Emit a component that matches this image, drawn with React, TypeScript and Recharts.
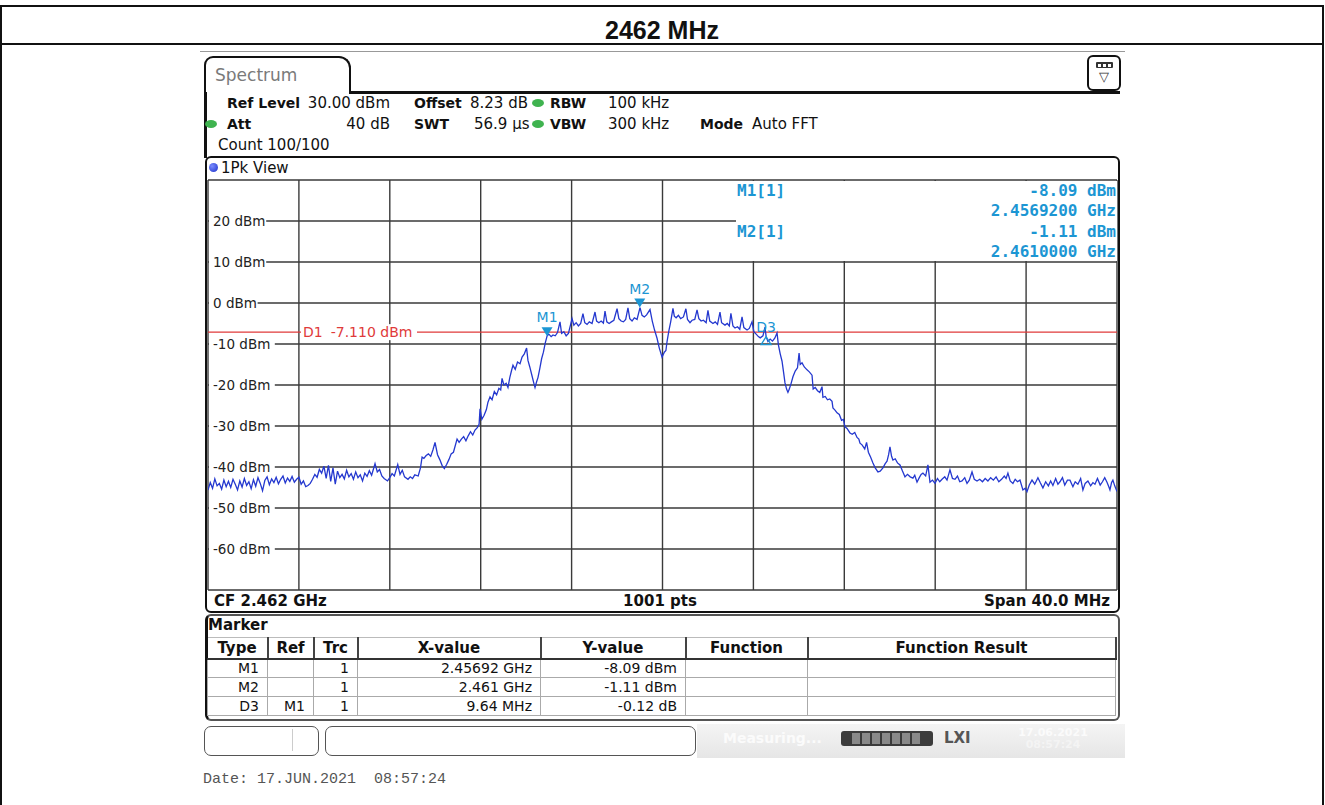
import React from "react";
import {
  LineChart,
  Line,
  XAxis,
  YAxis,
  CartesianGrid,
  ReferenceLine,
  ReferenceDot,
} from "recharts";

// frequency axis in MHz (CF 2462, span 40), level axis in dBm
const freqTicks = [2442, 2446, 2450, 2454, 2458, 2462, 2466, 2470, 2474, 2478, 2482];
const levelTicks = [-70, -60, -50, -40, -30, -20, -10, 0, 10, 20, 30];

// trace 1 (peak), [MHz, dBm]
const leftNoise: [number, number][] = [
  [2442.0, -45.6], [2442.1, -43.8], [2442.2, -45.2], [2442.3, -42.9], [2442.4, -44.6],
  [2442.5, -44.0], [2442.6, -45.4], [2442.7, -43.2], [2442.8, -44.8], [2442.9, -43.5],
  [2443.0, -45.0], [2443.1, -43.0], [2443.2, -44.2], [2443.3, -45.6], [2443.4, -43.4],
  [2443.5, -44.9], [2443.6, -42.8], [2443.7, -44.5], [2443.8, -43.6], [2443.9, -45.3],
  [2444.0, -43.1], [2444.1, -44.7], [2444.2, -42.6], [2444.3, -44.0], [2444.4, -45.8],
  [2444.5, -43.3], [2444.6, -42.4], [2444.7, -44.3], [2444.8, -42.9], [2444.9, -43.8],
  [2445.0, -42.5], [2445.1, -44.1], [2445.2, -43.0], [2445.3, -42.2], [2445.4, -43.9],
  [2445.5, -42.7], [2445.6, -43.5], [2445.7, -42.3], [2445.8, -43.7], [2445.9, -43.0],
  [2446.0, -42.5], [2446.1, -44.2], [2446.2, -43.4], [2446.3, -44.8], [2446.4, -44.5],
  [2446.5, -44.0],
];

const lowShoulder: [number, number][] = [
  [2446.6, -43.0], [2446.7, -41.8], [2446.8, -42.5], [2446.9, -40.6], [2447.0, -41.5],
  [2447.1, -39.8], [2447.2, -42.8], [2447.3, -39.6], [2447.4, -43.5], [2447.5, -40.2],
  [2447.6, -44.2], [2447.7, -41.0], [2447.8, -42.6], [2447.9, -41.8], [2448.0, -42.9],
  [2448.1, -40.8], [2448.2, -42.4], [2448.3, -41.6], [2448.4, -43.0], [2448.5, -41.2],
  [2448.6, -42.6], [2448.7, -41.9], [2448.8, -43.4], [2448.9, -41.5], [2449.0, -42.3],
  [2449.1, -40.9], [2449.2, -42.0], [2449.35, -39.2], [2449.45, -41.2], [2449.55, -40.6],
  [2449.65, -42.2], [2449.75, -42.8], [2449.9, -43.4], [2450.0, -42.6], [2450.1, -41.6],
  [2450.2, -42.2], [2450.35, -39.4], [2450.45, -41.8], [2450.55, -40.8], [2450.65, -42.4],
  [2450.8, -43.0], [2450.9, -42.4], [2451.0, -42.8], [2451.1, -41.9], [2451.25, -42.2],
  [2451.35, -40.2], [2451.42, -37.6], [2451.5, -37.9], [2451.6, -37.2], [2451.7, -36.8],
  [2451.8, -37.4], [2451.9, -35.8], [2451.99, -34.0], [2452.1, -37.0], [2452.2, -38.2],
  [2452.3, -39.6], [2452.4, -40.4], [2452.5, -39.4], [2452.6, -38.2], [2452.7, -36.8],
  [2452.8, -36.4], [2452.96, -33.2], [2453.05, -34.0], [2453.15, -33.2], [2453.25, -32.6],
  [2453.35, -33.6], [2453.45, -32.4], [2453.55, -31.4], [2453.65, -32.2], [2453.75, -31.0],
  [2453.85, -30.4], [2453.93, -29.6],
];

const midShoulder: [number, number][] = [
  [2453.97, -25.8], [2454.05, -28.4], [2454.15, -27.4], [2454.25, -26.0], [2454.32, -24.2],
  [2454.41, -22.9], [2454.5, -23.6], [2454.6, -21.6], [2454.7, -22.4], [2454.8, -20.8],
  [2454.88, -21.2], [2454.94, -18.4], [2455.02, -20.0], [2455.12, -19.6], [2455.2, -20.6],
  [2455.28, -18.2], [2455.36, -16.4], [2455.42, -15.2], [2455.52, -16.2], [2455.62, -14.4],
  [2455.73, -14.8], [2455.82, -13.2], [2455.92, -12.4], [2456.02, -11.0], [2456.08, -14.0],
  [2456.16, -15.6], [2456.26, -17.8], [2456.34, -19.6], [2456.39, -20.6], [2456.46, -19.2],
  [2456.52, -18.2], [2456.6, -16.0], [2456.68, -13.6], [2456.76, -12.0], [2456.84, -9.8],
  [2456.92, -8.09],
];

const plateauLeft: [number, number][] = [
  [2457.0, -7.6], [2457.1, -8.2], [2457.18, -7.8], [2457.28, -8.0], [2457.38, -7.2],
  [2457.49, -4.6], [2457.56, -7.4], [2457.66, -7.0], [2457.76, -8.0], [2457.86, -7.4],
  [2457.95, -5.4], [2458.02, -3.8], [2458.1, -5.4], [2458.2, -4.8], [2458.3, -5.6],
  [2458.4, -5.0], [2458.5, -2.6], [2458.58, -4.8], [2458.68, -5.2], [2458.78, -4.6],
  [2458.9, -5.0], [2459.03, -2.2], [2459.1, -4.4], [2459.2, -4.8], [2459.3, -4.4],
  [2459.4, -4.9], [2459.47, -2.0], [2459.55, -4.6], [2459.65, -5.0], [2459.75, -4.6],
  [2459.86, -4.2], [2460.0, -1.4], [2460.08, -3.8], [2460.18, -4.4], [2460.28, -4.6],
  [2460.38, -4.0], [2460.48, -1.2], [2460.56, -3.8], [2460.66, -4.4], [2460.76, -3.6],
  [2460.88, -4.0], [2461.01, -1.11], [2461.1, -3.0], [2461.2, -3.4], [2461.3, -2.9],
  [2461.45, -1.6], [2461.55, -4.4], [2461.65, -6.6], [2461.76, -8.6], [2461.86, -11.0],
  [2461.98, -13.2],
];

const plateauRight: [number, number][] = [
  [2462.08, -12.0], [2462.15, -11.6], [2462.2, -9.4], [2462.28, -6.8], [2462.36, -4.6],
  [2462.46, -1.3], [2462.52, -3.2], [2462.6, -3.6], [2462.7, -3.0], [2462.8, -3.8],
  [2462.92, -3.4], [2463.03, -1.4], [2463.1, -4.0], [2463.21, -4.8], [2463.3, -4.2],
  [2463.42, -4.0], [2463.52, -1.7], [2463.6, -3.8], [2463.7, -4.4], [2463.8, -4.2],
  [2463.92, -4.8], [2464.0, -1.8], [2464.08, -4.4], [2464.22, -5.0], [2464.32, -4.6],
  [2464.42, -5.2], [2464.53, -2.2], [2464.6, -4.8], [2464.75, -5.4], [2464.85, -5.0],
  [2464.94, -5.6], [2465.01, -2.5], [2465.1, -5.6], [2465.19, -6.1], [2465.3, -5.8],
  [2465.4, -6.4], [2465.5, -3.4], [2465.58, -6.0], [2465.72, -6.6], [2465.82, -6.2],
  [2465.94, -4.6], [2466.02, -7.0], [2466.12, -7.6], [2466.22, -8.2], [2466.3, -8.5],
  [2466.42, -8.0], [2466.51, -5.9], [2466.56, -8.21], [2466.64, -9.4], [2466.74, -8.8],
  [2466.84, -9.3], [2466.94, -8.6], [2467.04, -7.3], [2467.1, -10.2],
];

const upperFall: [number, number][] = [
  [2467.18, -12.4], [2467.26, -14.2], [2467.33, -17.0], [2467.39, -19.5], [2467.46, -21.0],
  [2467.52, -21.8], [2467.58, -21.0], [2467.66, -19.6], [2467.74, -18.0], [2467.84, -16.6],
  [2467.94, -15.8], [2468.01, -12.2], [2468.06, -15.0], [2468.14, -14.6], [2468.24, -15.6],
  [2468.36, -16.3], [2468.46, -16.8], [2468.58, -17.6], [2468.63, -21.0], [2468.72, -20.6],
  [2468.82, -21.4], [2468.92, -21.8], [2469.02, -20.4], [2469.06, -23.0], [2469.16, -22.8],
  [2469.26, -23.6], [2469.36, -23.4], [2469.46, -24.0], [2469.5, -25.6], [2469.6, -26.2],
  [2469.68, -26.8], [2469.78, -27.2], [2469.88, -28.6], [2469.96, -28.4], [2470.03, -30.2],
  [2470.12, -30.6], [2470.25, -31.7], [2470.35, -32.0], [2470.46, -31.6], [2470.56, -32.8],
  [2470.64, -33.2], [2470.69, -34.2], [2470.78, -34.6], [2470.9, -35.6], [2470.98, -34.0],
  [2471.06, -36.4], [2471.16, -37.6], [2471.26, -39.0], [2471.36, -40.2], [2471.48, -41.2],
  [2471.58, -41.0], [2471.7, -40.2],
];

const rightNoise: [number, number][] = [
  [2471.8, -39.2], [2471.88, -38.6], [2471.95, -37.0], [2472.01, -35.1], [2472.08, -37.4],
  [2472.14, -38.3], [2472.24, -38.0], [2472.34, -39.0], [2472.45, -39.5], [2472.56, -41.0],
  [2472.67, -42.4], [2472.78, -41.8], [2472.9, -42.4], [2473.02, -42.7], [2473.1, -42.0],
  [2473.2, -43.7], [2473.3, -42.6], [2473.38, -41.8], [2473.46, -41.5], [2473.58, -42.2],
  [2473.68, -39.5], [2473.77, -43.7], [2473.88, -43.2], [2473.99, -44.0], [2474.1, -42.8],
  [2474.2, -43.6], [2474.3, -43.0], [2474.42, -42.4], [2474.52, -43.2], [2474.65, -40.7],
  [2474.76, -42.8], [2474.87, -43.0], [2474.98, -42.2], [2475.08, -43.6], [2475.18, -43.4],
  [2475.3, -42.6], [2475.4, -44.0], [2475.5, -43.2], [2475.62, -41.2], [2475.72, -43.0],
  [2475.84, -43.4], [2475.96, -43.0], [2476.08, -43.6], [2476.2, -42.8], [2476.32, -43.4],
  [2476.44, -42.6], [2476.56, -43.2], [2476.68, -42.4], [2476.8, -43.6], [2476.92, -43.0],
  [2477.04, -42.2], [2477.12, -42.8], [2477.2, -41.5], [2477.3, -43.4], [2477.42, -44.0],
  [2477.52, -43.0], [2477.62, -43.6], [2477.73, -43.2], [2477.86, -45.6], [2477.96, -45.2],
  [2478.04, -46.0], [2478.14, -44.4], [2478.26, -43.2], [2478.38, -44.2], [2478.52, -42.6],
  [2478.62, -43.8], [2478.74, -45.1], [2478.86, -43.6], [2478.98, -44.6], [2479.08, -43.4],
  [2479.18, -44.5], [2479.3, -42.8], [2479.4, -44.2], [2479.49, -43.6], [2479.6, -42.6],
  [2479.7, -44.4], [2479.82, -43.2], [2479.93, -43.2], [2480.06, -44.8], [2480.16, -43.6],
  [2480.28, -44.2], [2480.4, -42.8], [2480.5, -45.6], [2480.6, -44.0], [2480.72, -43.4],
  [2480.84, -44.6], [2480.94, -43.8], [2481.03, -44.2], [2481.14, -42.8], [2481.26, -44.4],
  [2481.36, -43.6], [2481.46, -42.6], [2481.56, -43.7], [2481.64, -44.8], [2481.69, -45.6],
  [2481.76, -43.8], [2481.82, -43.2], [2481.9, -44.6], [2482.0, -46.0],
];

const displayLine = -7.11;
const markers = [
  { name: "M1", freq: 2456.92, level: -8.09 },
  { name: "M2", freq: 2461.0, level: -1.11 },
];
const deltaMarker = { name: "D3", freq: 2466.56, level: -8.21 };

const tableHead = ["Type", "Ref", "Trc", "X-value", "Y-value", "Function", "Function Result"];
const tableRows = [
  ["M1", "", "1", "2.45692 GHz", "-8.09 dBm", "", ""],
  ["M2", "", "1", "2.461 GHz", "-1.11 dBm", "", ""],
  ["D3", "M1", "1", "9.64 MHz", "-0.12 dB", "", ""],
];
const colWidths = [60, 46, 44, 183, 145, 122, 308];

const trace = [
  ...leftNoise,
  ...lowShoulder,
  ...midShoulder,
  ...plateauLeft,
  ...plateauRight,
  ...upperFall,
  ...rightNoise,
].map(([f, dbm]) => ({ f, dbm }));

const W = 1325;
const SANS = "'DejaVu Sans', Verdana, sans-serif";
const MONO = "'DejaVu Sans Mono', monospace";
const MK = "#1c96d3";
const TRACE = "#2438cf";
const GRID = "#3a3a3a";
const RED = "#e03a3a";

function At({
  x,
  y,
  size = 15,
  bold = false,
  color = "#111",
  anchor = "start",
  font = SANS,
  children,
}: any) {
  const s: React.CSSProperties = {
    position: "absolute",
    top: y - size * 0.6,
    fontSize: size,
    lineHeight: "1.2",
    fontFamily: font,
    fontWeight: bold ? "bold" : "normal",
    color,
    whiteSpace: "pre",
  };
  if (anchor === "end") s.right = W - x;
  else if (anchor === "middle") {
    s.left = x;
    s.transform = "translateX(-50%)";
  } else s.left = x;
  return <div style={s}>{children}</div>;
}

function Dot({ x, y, color = "#3fb34f" }: any) {
  return (
    <div
      style={{
        position: "absolute",
        left: x - 6,
        top: y - 4,
        width: 12,
        height: 8,
        borderRadius: "50%",
        background: color,
      }}
    />
  );
}

// level labels sit inside the diagram, on a white patch over the grid line
const LevelTick = (props: any) => {
  const { x, y, payload } = props;
  const v = payload.value;
  if (v >= 30 || v <= -70) return null;
  const text = `${v} dBm`;
  const w = String(v).length * 8.6 + 40;
  const tx = x + 5;
  return (
    <g>
      <rect x={tx - 4} y={y - 8} width={w} height={16} fill="#fff" />
      <text x={tx} y={y + 5} fontSize={13.5} fill="#222" fontFamily={SANS} textAnchor="start">
        {text}
      </text>
    </g>
  );
};

const D1Label = (props: any) => {
  const { viewBox } = props;
  if (!viewBox) return null;
  const x = viewBox.x + 93;
  const y = viewBox.y;
  return (
    <g>
      <rect x={x} y={y - 8} width={116} height={16} fill="#fff" />
      <text x={x + 2} y={y + 5} fontSize={14} fill={RED} fontFamily={SANS}>
        <tspan>D1</tspan>
        <tspan dx={8}>-7.110 dBm</tspan>
      </text>
    </g>
  );
};

const markerShape = (name: string) => (props: any) => {
  const { cx, cy } = props;
  return (
    <g>
      <polygon points={`${cx - 5.5},${cy - 9} ${cx + 5.5},${cy - 9} ${cx},${cy}`} fill={MK} />
      <text x={cx} y={cy - 14} textAnchor="middle" fontSize={14} fill={MK} fontFamily={SANS}>
        {name}
      </text>
    </g>
  );
};

const deltaShape = (props: any) => {
  const { cx, cy } = props;
  return (
    <g>
      <polygon
        points={`${cx},${cy} ${cx - 5},${cy + 8} ${cx + 5},${cy + 8}`}
        fill="none"
        stroke={MK}
        strokeWidth={1.3}
      />
      <text x={cx} y={cy - 5} textAnchor="middle" fontSize={14} fill={MK} fontFamily={SANS}>
        {deltaMarker.name}
      </text>
    </g>
  );
};

function Box(props: any) {
  const { x, y, w, h, style } = props;
  return (
    <div
      style={{
        position: "absolute",
        left: x,
        top: y,
        width: w,
        height: h,
        boxSizing: "border-box",
        ...style,
      }}
    />
  );
}

export default function App() {
  return (
    <div
      style={{
        position: "absolute",
        left: 0,
        top: 0,
        width: W,
        height: 805,
        background: "#fff",
        overflow: "hidden",
        fontFamily: SANS,
      }}
    >
      {/* page table frame */}
      <Box x={0} y={5} w={1324} h={900} style={{ border: "2px solid #111" }} />
      <Box x={0} y={43} w={1324} h={2} style={{ background: "#111" }} />
      <At x={662} y={30} size={25} bold anchor="middle" font="'Liberation Sans', Arial, sans-serif">
        2462 MHz
      </At>

      {/* instrument screen */}
      <Box x={200} y={51} w={925} h={1} style={{ background: "#999" }} />
      <Box
        x={204}
        y={56}
        w={147}
        h={38}
        style={{ border: "2.5px solid #111", borderBottom: "none", borderRadius: "9px 12px 0 0" }}
      />
      <At x={215} y={75} size={17} color="#7a7a7a">
        Spectrum
      </At>
      <Box x={349} y={91} w={771} h={2.5} style={{ background: "#111" }} />
      <Box x={204} y={92} w={2.5} h={66} style={{ background: "#111" }} />
      <Box x={1087} y={55} w={34} h={36} style={{ border: "2px solid #111", borderRadius: 6 }} />
      <Box x={1096} y={62} w={17} h={6} style={{ background: "#333", borderRadius: 1 }} />
      <Box x={1098} y={63.5} w={3} h={3} style={{ background: "#fff" }} />
      <Box x={1103} y={63.5} w={3} h={3} style={{ background: "#fff" }} />
      <Box x={1108} y={63.5} w={3} h={3} style={{ background: "#fff" }} />
      <At x={1104} y={77} size={13} anchor="middle" color="#333">
        ▽
      </At>

      <At x={227} y={103} size={14} bold>Ref Level</At>
      <At x={390} y={103} anchor="end">30.00 dBm</At>
      <At x={414} y={103} size={14} bold>Offset</At>
      <At x={470} y={103}>8.23 dB</At>
      <Dot x={538} y={103} />
      <At x={550} y={103} size={14} bold>RBW</At>
      <At x={608} y={103}>100 kHz</At>

      <Dot x={211} y={124} />
      <At x={227} y={124} size={14} bold>Att</At>
      <At x={390} y={124} anchor="end">40 dB</At>
      <At x={414} y={124} size={14} bold>SWT</At>
      <At x={474} y={124}>56.9 µs</At>
      <Dot x={538} y={124} />
      <At x={550} y={124} size={14} bold>VBW</At>
      <At x={608} y={124}>300 kHz</At>
      <At x={700} y={124} size={14} bold>Mode</At>
      <At x={752} y={124}>Auto FFT</At>

      <At x={218} y={145}>Count 100/100</At>

      {/* diagram panel */}
      <Box
        x={205}
        y={156}
        w={915}
        h={457}
        style={{ border: "2.5px solid #111", borderRadius: 6 }}
      />
      <div
        style={{
          position: "absolute",
          left: 209,
          top: 163,
          width: 9,
          height: 9,
          borderRadius: "50%",
          background: "radial-gradient(circle at 35% 35%, #7a8cff, #1a2fc8)",
        }}
      />
      <At x={221} y={168}>1Pk View</At>

      <div style={{ position: "absolute", left: 203, top: 175 }}>
        <LineChart
          width={919}
          height={420}
          data={trace}
          margin={{ top: 5, right: 5, bottom: 5, left: 4 }}
        >
          <CartesianGrid stroke={GRID} strokeWidth={1.4} />
          <XAxis
            dataKey="f"
            type="number"
            domain={[2442, 2482]}
            ticks={freqTicks}
            allowDataOverflow
            hide
          />
          <YAxis
            type="number"
            domain={[-70, 30]}
            ticks={levelTicks}
            interval={0}
            width={1}
            axisLine={false}
            tickLine={false}
            tickSize={0}
            tickMargin={0}
            tick={(p: any) => <LevelTick {...p} />}
            allowDataOverflow
          />
          <ReferenceLine
            y={displayLine}
            stroke={RED}
            strokeWidth={1.2}
            label={<D1Label />}
          />
          <Line
            type="linear"
            dataKey="dbm"
            stroke={TRACE}
            strokeWidth={1.3}
            dot={false}
            isAnimationActive={false}
          />
          {markers.map((m) => (
            <ReferenceDot
              key={m.name}
              x={m.freq}
              y={m.level}
              r={5}
              ifOverflow="visible"
              shape={markerShape(m.name)}
            />
          ))}
          <ReferenceDot
            x={deltaMarker.freq}
            y={deltaMarker.level}
            r={5}
            ifOverflow="visible"
            shape={deltaShape}
          />
        </LineChart>
      </div>

      {/* marker readout in the diagram */}
      <Box x={736} y={181} w={381} h={80} style={{ background: "#fff" }} />
      <At x={737} y={191} size={16} bold color={MK} font={MONO}>M1[1]</At>
      <At x={1116} y={191} size={16} bold color={MK} font={MONO} anchor="end">-8.09 dBm</At>
      <At x={1116} y={211} size={16} bold color={MK} font={MONO} anchor="end">2.4569200 GHz</At>
      <At x={737} y={232} size={16} bold color={MK} font={MONO}>M2[1]</At>
      <At x={1116} y={232} size={16} bold color={MK} font={MONO} anchor="end">-1.11 dBm</At>
      <At x={1116} y={252} size={16} bold color={MK} font={MONO} anchor="end">2.4610000 GHz</At>

      <At x={214} y={601} bold>CF 2.462 GHz</At>
      <At x={660} y={601} bold anchor="middle">1001 pts</At>
      <At x={1110} y={601} bold anchor="end">Span 40.0 MHz</At>

      {/* marker table */}
      <Box
        x={205}
        y={614}
        w={915}
        h={107}
        style={{ border: "2px solid #555", borderLeft: "3px solid #111", borderRadius: 6 }}
      />
      <At x={208} y={625} bold>Marker</At>
      <table
        style={{
          position: "absolute",
          left: 207,
          top: 637,
          borderCollapse: "collapse",
          tableLayout: "fixed",
          width: 908,
          fontFamily: SANS,
          color: "#111",
        }}
      >
        <colgroup>
          {colWidths.map((w, i) => (
            <col key={i} style={{ width: w }} />
          ))}
        </colgroup>
        <thead>
          <tr style={{ height: 21 }}>
            {tableHead.map((h) => (
              <th
                key={h}
                style={{
                  fontSize: 15,
                  padding: 0,
                  textAlign: "center",
                  borderRight: "2px solid #444",
                  borderBottom: "2px solid #333",
                  borderTop: "1px solid #bbb",
                  lineHeight: "18px",
                }}
              >
                {h}
              </th>
            ))}
          </tr>
        </thead>
        <tbody>
          {tableRows.map((r, ri) => (
            <tr key={ri} style={{ height: 19 }}>
              {r.map((c, ci) => (
                <td
                  key={ci}
                  style={{
                    fontSize: 14,
                    padding: "0 8px 0 0",
                    textAlign: "right",
                    border: "1px solid #aaa",
                    lineHeight: "17px",
                  }}
                >
                  {c}
                </td>
              ))}
            </tr>
          ))}
        </tbody>
      </table>

      {/* status bar */}
      <Box
        x={204}
        y={726}
        w={115}
        h={30}
        style={{ border: "1.5px solid #555", borderRadius: 7, background: "#fff" }}
      />
      <Box x={292} y={729} w={1} h={22} style={{ background: "#ccc" }} />
      <Box
        x={325}
        y={726}
        w={371}
        h={30}
        style={{ border: "1.5px solid #555", borderRadius: 7, background: "#fff" }}
      />
      <Box
        x={697}
        y={724}
        w={428}
        h={34}
        style={{ background: "linear-gradient(#f4f4f4, #e6e6e6)" }}
      />
      <At x={723} y={738} size={14} bold color="#fbfbfb">Measuring...</At>
      <Box x={841} y={731} w={92} h={15} style={{ background: "#3c3c3c", borderRadius: 3 }} />
      {[0, 1, 2, 3, 4, 5, 6].map((i) => (
        <Box
          key={i}
          x={852 + i * 10}
          y={733}
          w={8}
          h={11}
          style={{ background: "#8a8a8a" }}
        />
      ))}
      <At x={944} y={738} size={15} bold color="#555">LXI</At>
      <At x={1053} y={733} size={11} bold color="#fbfbfb" anchor="middle">17.06.2021</At>
      <At x={1053} y={745} size={11} bold color="#f4f4f4" anchor="middle">08:57:24</At>

      <At x={203} y={780} size={15} color="#555" font="'Liberation Mono', 'Courier New', monospace">
        Date: 17.JUN.2021  08:57:24
      </At>
    </div>
  );
}
